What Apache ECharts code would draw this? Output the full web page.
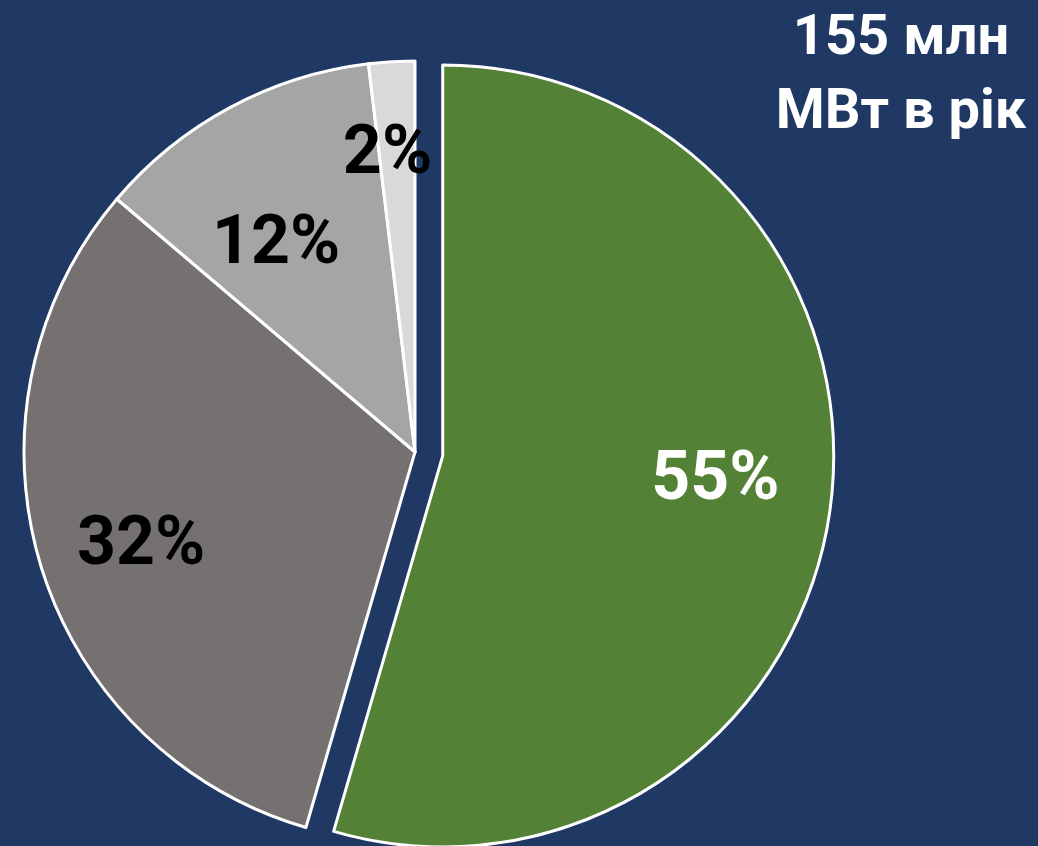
<!DOCTYPE html>
<html>
<head>
<meta charset="utf-8">
<script src="https://cdn.jsdelivr.net/npm/echarts@6/dist/echarts.min.js"></script>
<style>
html,body{margin:0;padding:0;background:#1f3864;}
#main{width:1038px;height:846px;}
</style>
</head>
<body>
<div id="main"></div>
<script>
// shares, clockwise from the top
var names = ['A', 'B', 'C', 'D'];
var values = [54.5, 31.7, 11.9, 1.9];
var colors = ['#538135', '#767171', '#a5a5a5', '#d9d9d9'];
var labelColors = ['#ffffff', '#000000', '#000000', '#000000'];
var titleLines = ['155 млн', 'МВт в рік'];

// small nudges so the labels sit where they do in the slide
var labelNudge = [[-1, -13], [-9, 15], [-8, 38], [-11, -20]];

var myChart = echarts.init(document.getElementById('main'));

var pieData = [];
var labelData = [];
for (var i = 0; i < values.length; i++) {
    pieData.push({
        name: names[i],
        value: values[i],
        selected: i === 0,
        itemStyle: {color: colors[i]}
    });
    labelData.push({
        name: names[i],
        value: values[i],
        selected: i === 0,
        label: {color: labelColors[i]}
    });
}

var font = 'Roboto, "Noto Sans", sans-serif';

myChart.setOption({
    backgroundColor: '#1f3864',
    animation: false,
    graphic: titleLines.map(function (t, k) {
        return {
            type: 'text',
            x: 901,
            y: 40 + k * 74,
            silent: true,
            style: {
                text: t,
                fill: '#fff',
                font: 'bold 56px ' + font,
                textAlign: 'center',
                textVerticalAlign: 'middle'
            }
        };
    }),
    series: [
        {
            type: 'pie',
            center: [415, 452],
            radius: [0, 391],
            startAngle: 90,
            clockwise: true,
            selectedMode: 'single',
            selectedOffset: 28,
            silent: true,
            itemStyle: {borderColor: '#fff', borderWidth: 3},
            label: {show: false},
            labelLine: {show: false},
            data: pieData
        },
        {
            // transparent ring so the labels sit at 0.7 of the radius
            type: 'pie',
            center: [415, 452],
            radius: [156, 391],
            startAngle: 90,
            clockwise: true,
            selectedMode: 'single',
            selectedOffset: 28,
            silent: true,
            itemStyle: {color: 'rgba(0,0,0,0)', borderWidth: 0},
            label: {
                show: true,
                position: 'inside',
                fontSize: 68,
                fontWeight: 'bold',
                fontFamily: font,
                formatter: function (p) {
                    return Math.round(p.value) + '%';
                }
            },
            labelLayout: function (p) {
                return {dx: labelNudge[p.dataIndex][0], dy: labelNudge[p.dataIndex][1]};
            },
            labelLine: {show: false},
            data: labelData
        }
    ]
});
</script>
</body>
</html>
